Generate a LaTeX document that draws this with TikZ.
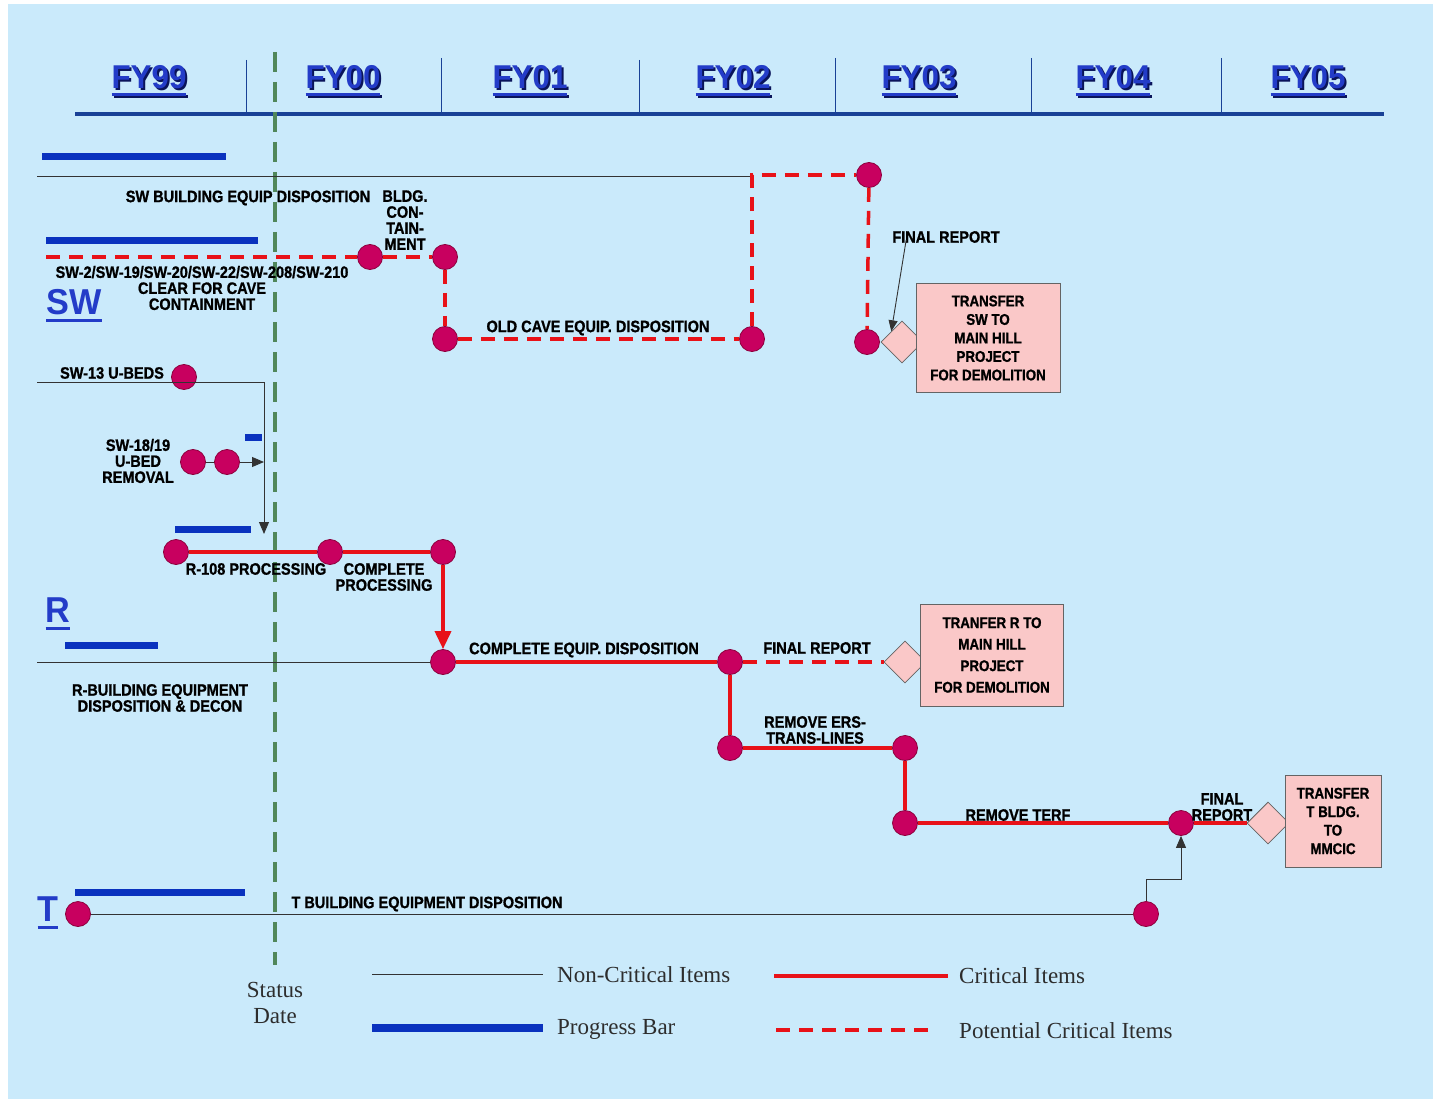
\documentclass[tikz,border=0pt]{standalone}
\usepackage{fontspec}
\setmainfont{Liberation Serif}
\newfontfamily\condb[FakeStretch=0.88,FakeBold=1]{Liberation Sans}
\newfontfamily\boxf[FakeStretch=0.86,FakeBold=1]{Liberation Sans}
\newfontfamily\hdrf[FakeStretch=0.95]{Liberation Sans}
\newfontfamily\legf{Liberation Serif}
\usetikzlibrary{arrows.meta,shapes.geometric}
\definecolor{bgblue}{RGB}{202,234,251}
\definecolor{msfill}{RGB}{200,0,95}
\definecolor{msdraw}{RGB}{140,0,60}
\definecolor{critred}{RGB}{232,18,24}
\definecolor{progblue}{RGB}{10,50,190}
\definecolor{hdrline}{RGB}{25,65,150}
\definecolor{fyblue}{RGB}{35,60,200}
\definecolor{fyshadow}{RGB}{10,20,90}
\definecolor{statgreen}{RGB}{80,135,90}
\definecolor{boxpink}{RGB}{250,200,200}
\definecolor{boxedge}{RGB}{100,100,100}
\definecolor{legtext}{RGB}{45,45,45}
\newcommand\ulbox[2]{\hbox{\setbox0\hbox{#1}\vbox{\offinterlineskip\hbox{\color{#2}#1}\kern4pt\hbox{\color{#2}\rule{\wd0}{3.5pt}}}}}
\newcommand\fyt[1]{\rlap{\kern2pt\lower2pt\ulbox{#1}{fyshadow}}\ulbox{#1}{fyblue}}
\begin{document}
\begin{tikzpicture}[x=1pt,y=-1pt,
  ms/.style={circle,fill=msfill,draw=msdraw,line width=0.8pt,minimum size=25pt,inner sep=0pt},
  crit/.style={draw=critred,line width=3.5pt},
  pot/.style={draw=critred,line width=3.5pt,dash pattern=on 14pt off 9pt},
  noncrit/.style={draw=black!80,line width=0.9pt},
  prog/.style={draw=progblue,line width=7pt},
  lbl/.style={font=\condb\bfseries\fontsize{16.5}{16}\selectfont,inner sep=0pt,align=center,text=black},
  dia/.style={diamond,aspect=1,draw=boxedge,fill=boxpink,line width=0.8pt,minimum size=42pt,inner sep=0pt},
  pbox/.style={draw=boxedge,fill=boxpink,line width=1pt,inner sep=0pt,align=center,font=\boxf\bfseries\fontsize{15.5}{18.5}\selectfont},
  fy/.style={font=\hdrf\bfseries\fontsize{33}{33}\selectfont,inner sep=0pt},
  sec/.style={font=\hdrf\bfseries\fontsize{36}{36}\selectfont,inner sep=0pt},
  sep/.style={draw=hdrline,line width=0.9pt},
  leg/.style={font=\legf\fontsize{23}{23}\selectfont,text=legtext,inner sep=0pt,anchor=west},
  thinarrow/.style={noncrit,-{Triangle[length=12pt,width=10pt]}}
]
\useasboundingbox (0,0) rectangle (1437,1099);
\fill[white] (0,0) rectangle (1437,1099);
\fill[bgblue] (8,4) rectangle (1433,1099);

% ---------- header ----------
\draw[draw=hdrline,line width=4.5pt] (75,114) -- (1384,114);
\foreach \x/\t in {246/60,441/58,639/60,835/58,1031/58,1221/58}
  \draw[sep] (\x,\t) -- (\x,113);
\node[fy] (fy99) at (149,82) {\fyt{FY99}};
\node[fy] (fy00) at (343,82) {\fyt{FY00}};
\node[fy] (fy01) at (530,82) {\fyt{FY01}};
\node[fy] (fy02) at (733,82) {\fyt{FY02}};
\node[fy] (fy03) at (919,82) {\fyt{FY03}};
\node[fy] (fy04) at (1113,82) {\fyt{FY04}};
\node[fy] (fy05) at (1308,82) {\fyt{FY05}};

% ---------- status date ----------
\draw[draw=statgreen,line width=4.5pt,dash pattern=on 20pt off 10pt] (275,52) -- (275,965);
\node[font=\legf\fontsize{23}{26}\selectfont,text=legtext,align=center,inner sep=0pt] (status) at (275,1003) {Status\\Date};

% ---------- SW section ----------
\node[sec] (swlab) at (74,306) {\ulbox{SW}{fyblue}};
\draw[prog] (42,157) -- (226,157);
\draw[prog] (46,241) -- (258,241);

\node[ms] (n1) at (869,175) {};
\node[ms] (n2) at (370,257) {};
\node[ms] (n3) at (445,257) {};
\node[ms] (n4) at (445,339) {};
\node[ms] (n5) at (752,339) {};
\node[ms] (n6) at (867,342) {};
\node[dia] (d1) at (902,342) {};
\node[pbox,minimum width=144pt,minimum height=109pt] (box1) at (988,338)
  {TRANSFER\\SW TO\\MAIN HILL\\PROJECT\\FOR DEMOLITION};

\coordinate (swstart) at (37,176);
\coordinate (swcorner) at (752,176);
\coordinate (clrstart) at (46,257);
\draw[noncrit] (swstart) -- (swcorner);
\draw[pot] (n5) |- (n1);
\draw[pot] (n1) -- (n6);
\draw[pot] (clrstart) -- (n2);
\draw[pot] (n2) -- (n3);
\draw[pot] (n3) -- (n4);
\draw[pot] (n4) -- (n5);

\node[lbl] (swbld) at (248,198) {SW BUILDING EQUIP DISPOSITION};
\node[lbl] (bldg) at (405,220) {BLDG.\\CON-\\TAIN-\\MENT};
\node[lbl] (clear) at (202,288) {SW-2/SW-19/SW-20/SW-22/SW-208/SW-210\\CLEAR FOR CAVE\\CONTAINMENT};
\node[lbl] (oldcave) at (598,328) {OLD CAVE EQUIP. DISPOSITION};
\node[lbl] (fr1) at (946,237) {FINAL REPORT};
\draw[noncrit,-{Triangle[length=11pt,width=9pt]}] ([xshift=14pt,yshift=3pt]fr1.south west) -- (d1.north west);

% SW-13 and SW-18/19
\node[ms] (n7) at (184,377) {};
\node[lbl] (sw13) at (112,373) {SW-13 U-BEDS};
\coordinate (sw13start) at (37,382);
\coordinate (sw13end) at (264,534);
\draw[thinarrow] (sw13start) -- (264,382) -- (sw13end);
\draw[draw=progblue,line width=7pt] (245,437) -- (262,437);

\node[lbl] (sw1819) at (138,461) {SW-18/19\\U-BED\\REMOVAL};
\node[ms] (n8) at (193,462) {};
\node[ms] (n9) at (227,462) {};
\coordinate (join1819) at (264,462);
\draw[noncrit] (n8) -- (n9);
\draw[thinarrow] (n9) -- (join1819);

% R-108
\draw[prog] (175,529) -- (251,529);
\node[ms] (n10) at (176,552) {};
\node[ms] (n11) at (330,552) {};
\node[ms] (n12) at (443,552) {};
\draw[crit] (n10) -- (n11);
\draw[crit] (n11) -- (n12);
\node[lbl] (r108) at (256,569) {R-108 PROCESSING};
\node[lbl] (cproc) at (384,577) {COMPLETE\\PROCESSING};

% ---------- R section ----------
\node[sec] (rlab) at (58,614) {\ulbox{R}{fyblue}};
\draw[prog] (65,645) -- (158,645);
\node[ms] (n13) at (443,662) {};
\draw[crit,-{Triangle[length=18pt,width=16pt]}] (n12) -- (n13);
\coordinate (rstart) at (37,662);
\draw[noncrit] (rstart) -- (n13);
\node[lbl] (rbld) at (160,698) {R-BUILDING EQUIPMENT\\DISPOSITION \& DECON};

\node[ms] (n14) at (730,662) {};
\draw[crit] (n13) -- (n14);
\node[lbl] (ceq) at (584,650) {COMPLETE EQUIP. DISPOSITION};
\node[dia] (d2) at (905,662) {};
\draw[pot] (n14) -- (d2);
\node[lbl] (fr2) at (817,648) {FINAL REPORT};
\node[pbox,minimum width=143pt,minimum height=102pt,font=\boxf\bfseries\fontsize{15.5}{21.5}\selectfont] (box2) at (992,655)
  {TRANFER R TO\\MAIN HILL\\PROJECT\\FOR DEMOLITION};

\node[ms] (n15) at (730,748) {};
\draw[crit] (n14) -- (n15);
\node[ms] (n16) at (905,748) {};
\draw[crit] (n15) -- (n16);
\node[lbl] (ers) at (815,730) {REMOVE ERS-\\TRANS-LINES};
\node[ms] (n17) at (905,823) {};
\draw[crit] (n16) -- (n17);
\node[ms] (n18) at (1181,823) {};
\draw[crit] (n17) -- (n18);
\node[lbl] (terf) at (1018,815) {REMOVE TERF};
\node[dia] (d3) at (1268,823) {};
\draw[crit] (n18) -- (d3);
\node[lbl] (fr3) at (1222,807) {FINAL\\REPORT};
\node[pbox,minimum width=96pt,minimum height=92pt] (box3) at (1333,821)
  {TRANSFER\\T BLDG.\\TO\\MMCIC};

% ---------- T section ----------
\node[sec] (tlab) at (48,913) {\ulbox{T}{fyblue}};
\draw[prog] (75,892) -- (245,892);
\node[ms] (n19) at (78,914) {};
\node[ms] (n20) at (1146,914) {};
\draw[noncrit] (n19) -- (n20);
\node[lbl] (tbld) at (427,904) {T BUILDING EQUIPMENT DISPOSITION};
\draw[thinarrow] (n20) -- ++(0,-35) -| (n18);

% ---------- legend ----------
\draw[noncrit] (372,974) -- (543,974);
\node[leg] (lnc) at (557,975) {Non-Critical Items};
\draw[crit] (774,976) -- (948,976);
\node[leg] (lc) at (959,976) {Critical Items};
\draw[draw=progblue,line width=8pt] (372,1028) -- (543,1028);
\node[leg] (lpb) at (557,1029) {Progress Bar};
\draw[pot] (776,1030) -- (935,1030);
\node[leg] (lpc) at (959,1031) {Potential Critical Items};
\end{tikzpicture}
\end{document}
